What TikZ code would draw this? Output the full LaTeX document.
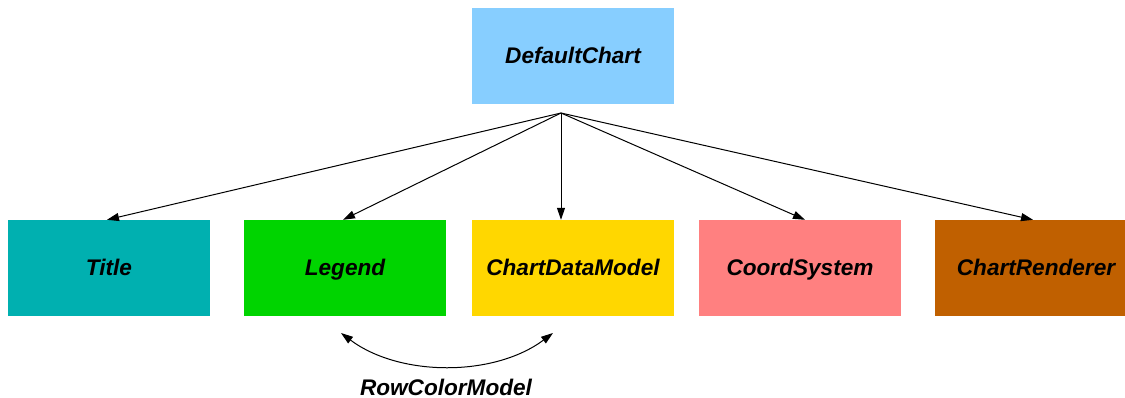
\documentclass[tikz,border=0pt]{standalone}
\usepackage{fontspec}
\setmainfont{Liberation Sans}
\usetikzlibrary{arrows.meta}
\definecolor{cDefault}{RGB}{135,206,255}
\definecolor{cTitle}{RGB}{0,176,176}
\definecolor{cLegend}{RGB}{0,212,0}
\definecolor{cData}{RGB}{255,215,0}
\definecolor{cCoord}{RGB}{255,128,128}
\definecolor{cRender}{RGB}{192,96,0}
\begin{document}
\begin{tikzpicture}[x=1pt,y=-1pt,
  box/.style={minimum width=202pt,minimum height=96pt,inner sep=0pt,
    text height=20pt,text depth=4pt,
    font=\fontsize{22.6}{26}\selectfont\bfseries\itshape},
  link/.style={line width=1pt,-{Triangle[length=12pt,width=8pt]}},
  lbl/.style={inner sep=0pt,font=\fontsize{22.6}{26}\selectfont\bfseries\itshape}]
\clip (0,0) rectangle (1125,398);
\fill[white] (0,0) rectangle (1125,398);
\node[box,fill=cDefault] (default) at (573,56) {DefaultChart};
\node[box,fill=cTitle]   (title)   at (109,268) {Title};
\node[box,fill=cLegend]  (legend)  at (345,268) {Legend};
\node[box,fill=cData]    (data)    at (573,268) {ChartDataModel};
\node[box,fill=cCoord]   (coord)   at (800,268) {CoordSystem};
\node[box,fill=cRender]  (render)  at (1036,268) {ChartRenderer};
\coordinate (hub) at (561,113);
\draw[link] (hub) -- ([xshift=-2pt]title.north);
\draw[link] (hub) -- ([xshift=-2pt]legend.north);
\draw[link] (hub) -- ([xshift=-12pt]data.north);
\draw[link] (hub) -- ([xshift=5pt]coord.north);
\draw[link] (hub) -- ([xshift=-3pt]render.north);
\coordinate (rcA) at (341,333);
\coordinate (rcB) at (553,333);
\draw[line width=1pt,{Triangle[length=12pt,width=8pt]}-{Triangle[length=12pt,width=8pt]}]
  (rcA) .. controls (400,377) and (494,377) .. (rcB);
\node[lbl,anchor=base] (rowcolor) at (446,395) {RowColorModel};
\end{tikzpicture}
\end{document}
